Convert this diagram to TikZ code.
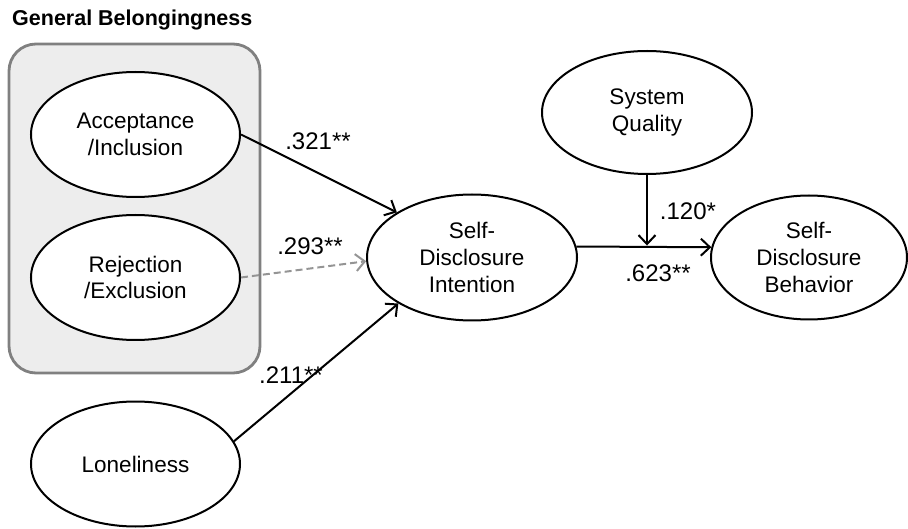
\documentclass[tikz,border=0pt]{standalone}
\usepackage{fontspec}
\setmainfont{Liberation Sans}
\usetikzlibrary{shapes.geometric,arrows.meta}
\begin{document}
\begin{tikzpicture}[x=1pt,y=-1pt,
  latent/.style={ellipse,draw=black,line width=2pt,fill=white,inner sep=0pt,
    minimum width=209pt,minimum height=125pt,align=center,
    font=\fontsize{22.5}{26.8}\selectfont},
  path/.style={line width=2pt,-{Straight Barb[length=9pt,width=17pt,line width=2pt]}},
  dpath/.style={line width=2pt,draw=black!42,dash pattern=on 7pt off 4pt,
    -{Straight Barb[length=9pt,width=17pt,line width=2pt]}},
  coef/.style={font=\fontsize{24}{26}\selectfont,inner sep=0pt},
  groupbox/.style={draw=black!50,line width=2.8pt,fill=black!7,rounded corners=27pt}
]
\useasboundingbox (0,0) rectangle (908,529);
\node[anchor=base west,font=\fontsize{21.5}{24}\bfseries\selectfont,inner sep=0pt] (title) at (12,26) {General Belongingness};
\draw[groupbox] (9,44) rectangle (260,373);
\node[latent] (acc) at (135.5,134.5) {Acceptance\\/Inclusion};
\node[latent] (rej) at (135.5,277.5) {Rejection\\/Exclusion};
\node[latent] (lon) at (135.5,464) {Loneliness};
\node[latent,minimum width=210pt,minimum height=126pt] (sdi) at (472,257.5) {Self-\\Disclosure\\Intention};
\node[latent,minimum width=210pt,minimum height=123pt] (sq) at (647,112.5) {System\\Quality};
\node[latent,minimum width=196pt,minimum height=124pt] (sdb) at (809,257.5) {Self-\\Disclosure\\Behavior};
\draw[path] (acc.east) -- (sdi.149);
\draw[dpath] (rej.east) -- (sdi.182);
\draw[path] (lon.13) -- (sdi.212);
\draw[path] (sdi.6) -- (sdb.174);
\draw[path,shorten >=1pt] (sq.south) -- (sq.south |- sdi.6);
\node[coef] (c1) at (318,141) {.321**};
\node[coef] (c2) at (310,246) {.293**};
\node[coef] (c3) at (291,375) {.211**};
\node[coef] (c4) at (688,211) {.120*};
\node[coef] (c5) at (658,273) {.623**};
\end{tikzpicture}
\end{document}
